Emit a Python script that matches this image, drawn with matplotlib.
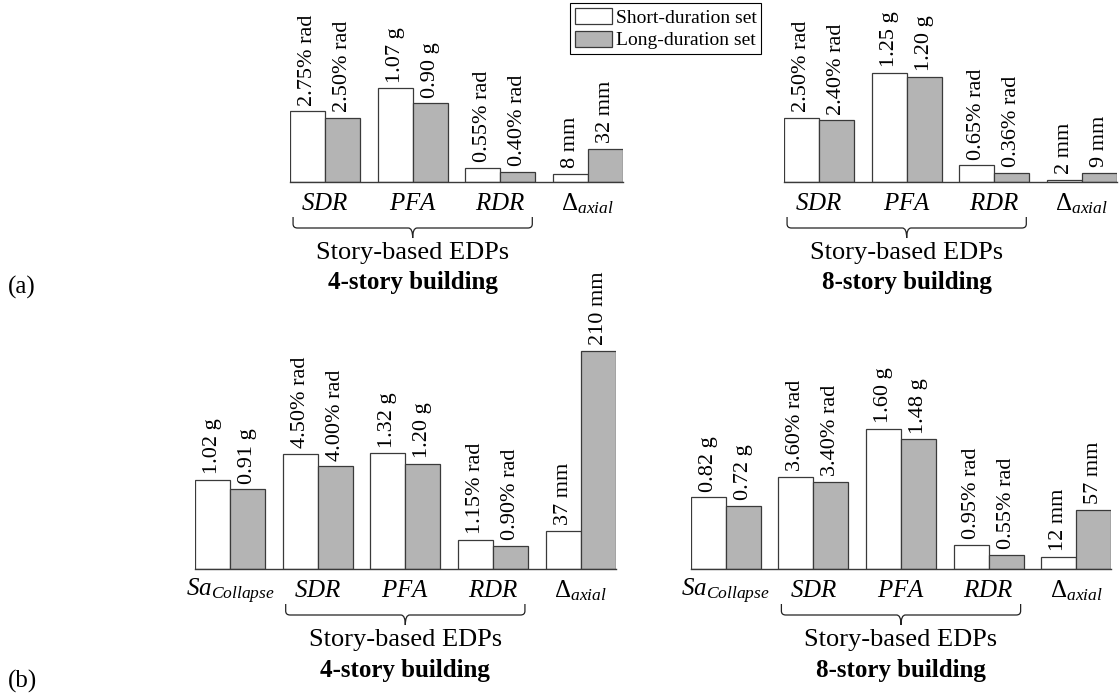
import matplotlib
matplotlib.use("Agg")
import matplotlib.pyplot as plt
from matplotlib.patches import Patch, PathPatch
from matplotlib.path import Path
from matplotlib.transforms import blended_transform_factory

plt.rcParams['font.family'] = ['Liberation Serif', 'DejaVu Serif']
plt.rcParams['mathtext.fontset'] = 'custom'
plt.rcParams['mathtext.rm'] = 'Liberation Serif'
plt.rcParams['mathtext.it'] = 'Liberation Serif:italic'
plt.rcParams['mathtext.bf'] = 'Liberation Serif:bold'

W, H, DPI = 1119, 696, 100

# ---- data -------------------------------------------------------------
story_edps = ["SDR", "PFA", "RDR", "axial"]
story_units = ["rad", "g", "rad", "mm"]
collapse_edps = ["Sa", "SDR", "PFA", "RDR", "axial"]
collapse_units = ["g", "rad", "g", "rad", "mm"]

# (a) story-based EDPs
a4_short = [2.75, 1.07, 0.55, 8]
a4_long = [2.50, 0.90, 0.40, 32]
a8_short = [2.50, 1.25, 0.65, 2]
a8_long = [2.40, 1.20, 0.36, 9]

# (b) collapse-level EDPs
b4_short = [1.02, 4.50, 1.32, 1.15, 37]
b4_long = [0.91, 4.00, 1.20, 0.90, 210]
b8_short = [0.82, 3.60, 1.60, 0.95, 12]
b8_long = [0.72, 3.40, 1.48, 0.55, 57]

series_labels = ["Short-duration set", "Long-duration set"]
building_titles = ["4-story building", "8-story building"]

# common plotting scale for each unit (% rad, g, mm)
unit_scale = {"rad": 1.0, "g": 3.415, "mm": 0.0405}
unit_fmt = {"rad": "{:.2f}% rad", "g": "{:.2f} g", "mm": "{:.0f} mm"}

tick_text = {
    "SDR": r"$SDR$",
    "PFA": r"$PFA$",
    "RDR": r"$RDR$",
    "axial": r"$\Delta_{axial}$",
    "Sa": r"$Sa_{Collapse}$",
}

SHORT_COLOR = "white"
LONG_COLOR = "#b4b4b4"
EDGE = "#3a3a3a"
PX_PER_UNIT_Y = 25.65
PX_PER_GROUP = 87.63

fig = plt.figure(figsize=(W / DPI, H / DPI), dpi=DPI)
fig.patch.set_facecolor("white")


def make_axes(left_px, baseline_px, n_groups, top_px):
    width_px = (n_groups - 0.2) * PX_PER_GROUP
    height_px = baseline_px - top_px
    ax = fig.add_axes([left_px / W, (H - baseline_px) / H, width_px / W, height_px / H])
    ax.set_xlim(-0.4, n_groups - 1 + 0.4)
    ax.set_ylim(0, height_px / PX_PER_UNIT_Y)
    for s in ("top", "left", "right"):
        ax.spines[s].set_visible(False)
    ax.spines["bottom"].set_color(EDGE)
    ax.spines["bottom"].set_linewidth(1.0)
    ax.set_xticks([])
    ax.set_yticks([])
    ax.patch.set_alpha(0)
    ax._hpx = height_px
    return ax


def below(ax, px):
    return -px / ax._hpx


def draw_panel(ax, edps, units, short, long_, title, brace_from):
    n = len(edps)
    for i in range(n):
        sc = unit_scale[units[i]]
        for val, dx, col in ((short[i], -0.2, SHORT_COLOR), (long_[i], 0.2, LONG_COLOR)):
            h = val * sc
            ax.bar(i + dx, h, width=0.4, color=col, edgecolor=EDGE, linewidth=0.9, zorder=2)
            ax.annotate(unit_fmt[units[i]].format(val), xy=(i + dx, h), xytext=(0, 4),
                        textcoords="offset points", rotation=90, ha="center",
                        va="bottom", fontsize=16, annotation_clip=False)
    tr = blended_transform_factory(ax.transData, ax.transAxes)
    for i, e in enumerate(edps):
        ax.text(i, below(ax, 22), tick_text[e], transform=tr, ha="center",
                va="center", fontsize=18)
    # curly brace under the story-based EDPs
    x0 = brace_from - 0.4 + 0.035
    x1 = brace_from + 2 + 0.4 - 0.035
    xm = (x0 + x1) / 2
    r = 0.05
    yt, yl, ytip = below(ax, 35), below(ax, 46), below(ax, 56)
    yc = below(ax, 42)
    verts = [(x0, yt), (x0, yc), (x0, yl), (x0 + r, yl), (xm - r, yl), (xm, yl), (xm, ytip),
             (xm, yl), (xm + r, yl), (x1 - r, yl), (x1, yl), (x1, yc), (x1, yt)]
    codes = [Path.MOVETO, Path.LINETO, Path.CURVE3, Path.CURVE3, Path.LINETO,
             Path.CURVE3, Path.CURVE3, Path.CURVE3, Path.CURVE3, Path.LINETO,
             Path.CURVE3, Path.CURVE3, Path.LINETO]
    ax.add_patch(PathPatch(Path(verts, codes), transform=tr, facecolor="none",
                           edgecolor="#222222", linewidth=0.9, clip_on=False))
    ax.text(xm, below(ax, 71), "Story-based EDPs", transform=tr, ha="center",
            va="center", fontsize=19)
    ax.text(xm, below(ax, 101), title, transform=tr, ha="center", va="center",
            fontsize=18, fontweight="bold")


ax_a4 = make_axes(290, 182, 4, 0)
ax_a8 = make_axes(784, 182, 4, 0)
ax_b4 = make_axes(195, 569, 5, 300)
ax_b8 = make_axes(690.7, 569, 5, 300)

draw_panel(ax_a4, story_edps, story_units, a4_short, a4_long, building_titles[0], 0)
draw_panel(ax_a8, story_edps, story_units, a8_short, a8_long, building_titles[1], 0)
draw_panel(ax_b4, collapse_edps, collapse_units, b4_short, b4_long, building_titles[0], 1)
draw_panel(ax_b8, collapse_edps, collapse_units, b8_short, b8_long, building_titles[1], 1)

fig.text(8 / W, 1 - 287 / H, "(a)", ha="left", va="center", fontsize=18)
fig.text(8 / W, 1 - 681 / H, "(b)", ha="left", va="center", fontsize=18)

handles = [Patch(facecolor=SHORT_COLOR, edgecolor=EDGE, linewidth=0.9),
           Patch(facecolor=LONG_COLOR, edgecolor=EDGE, linewidth=0.9)]
leg = fig.legend(handles, series_labels, loc="upper left",
                 bbox_to_anchor=(570 / W, 1 - 3 / H), borderaxespad=0,
                 fontsize=14, frameon=True, fancybox=False, edgecolor="black",
                 framealpha=1, borderpad=0.25, handlelength=1.9, handleheight=0.9,
                 handletextpad=0.2, labelspacing=0.2)
leg.get_frame().set_linewidth(0.8)

fig.savefig("out.png", dpi=DPI, facecolor="white")
